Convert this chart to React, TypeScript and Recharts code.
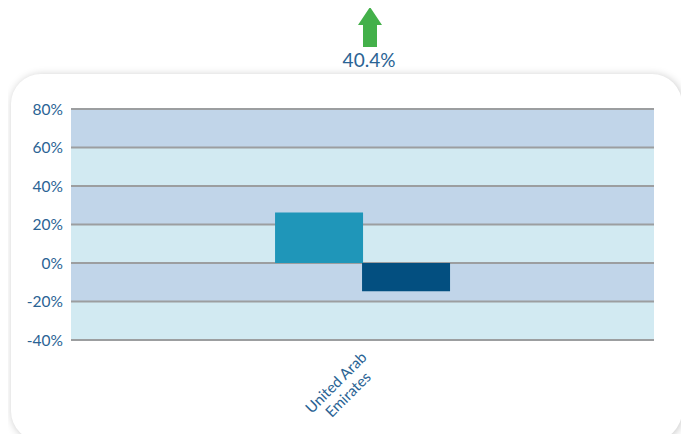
import React from "react";
import { BarChart, Bar, XAxis, YAxis, CartesianGrid } from "recharts";

const countries = ["United Arab Emirates"];
const seriesA = [26.2];
const seriesB = [-14.7];
const yTicks = [-40, -20, 0, 20, 40, 60, 80];
const headline = "40.4%";

const data = countries.map((name, i) => ({ name, a: seriesA[i], b: seriesB[i] }));

const FONT = "Lato, 'Open Sans', sans-serif";
const TEXT = "#2a6394";

function CountryTick(props: any) {
  const { x, y, payload } = props;
  const words = String(payload.value).split(" ");
  const lines = [words.slice(0, 2).join(" "), words.slice(2).join(" ")].filter(Boolean);
  return (
    <g transform={`translate(${x - 26.5},${y + 42.5}) rotate(-45)`}>
      {lines.map((line, i) => (
        <text
          key={i}
          x={0}
          y={i * 17}
          dy="0.35em"
          textAnchor="middle"
          fill={TEXT}
          fontSize={15}
          fontFamily={FONT}
        >
          {line}
        </text>
      ))}
    </g>
  );
}

export default function App() {
  return (
    <div style={{ position: "relative", width: 689, height: 442, margin: -8, overflow: "hidden", fontFamily: FONT }}>
      {/* headline arrow + value */}
      <svg style={{ position: "absolute", left: 0, top: 0 }} width={689} height={74}>
        <polygon points="370,7 382,25 377,25 377,47 363,47 363,25 358,25" fill="#43b04a" />
        <text x={369} y={67} textAnchor="middle" fill={TEXT} fontSize={19} fontFamily={FONT}>
          {headline}
        </text>
      </svg>

      {/* card */}
      <div
        style={{
          position: "absolute",
          left: 11,
          top: 74,
          width: 671,
          height: 367,
          background: "#fff",
          borderRadius: 30,
          boxShadow: "1px 1px 8px rgba(0,0,0,0.22)",
        }}
      />

      <div style={{ position: "absolute", left: 0, top: 0 }}>
        <BarChart
          width={689}
          height={442}
          data={data}
          margin={{ top: 109, right: 35, bottom: 22, left: 11 }}
          barCategoryGap="35%"
          barGap={-1}
        >
          <CartesianGrid
            vertical={false}
            stroke="#9c9ea0"
            strokeWidth={2}
            horizontalFill={["#c1d5e9", "#d2eaf2"]}
            fillOpacity={1}
          />
          <XAxis
            dataKey="name"
            axisLine={false}
            tickLine={false}
            tickSize={0}
            tickMargin={0}
            height={80}
            interval={0}
            tick={<CountryTick />}
          />
          <YAxis
            domain={[-40, 80]}
            ticks={yTicks}
            axisLine={false}
            tickLine={false}
            tickSize={0}
            tickMargin={8}
            width={60}
            tickFormatter={(v) => `${v}%`}
            tick={{ fill: TEXT, fontSize: 15.5, fontFamily: FONT }}
          />
          <Bar dataKey="a" fill="#1f96b9" isAnimationActive={false} />
          <Bar dataKey="b" fill="#034f80" isAnimationActive={false} />
        </BarChart>
      </div>
    </div>
  );
}
